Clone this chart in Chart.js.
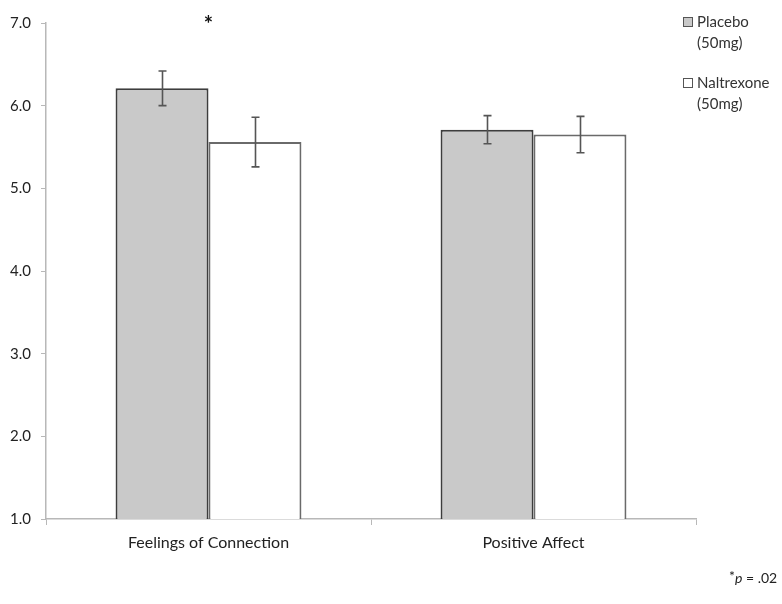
<!DOCTYPE html>
<html>
<head>
<meta charset="utf-8">
<script src="https://cdn.jsdelivr.net/npm/chart.js@4"></script>
<style>
  html, body { margin: 0; padding: 0; background: #fff; }
  #wrap { position: relative; width: 782px; height: 604px; }
</style>
</head>
<body>
<div id="wrap"><canvas id="chart" width="782" height="604"></canvas></div>
<script>
const categories = ['Feelings of Connection', 'Positive Affect'];
const seriesNames = [['Placebo', '(50mg)'], ['Naltrexone', '(50mg)']];
const placeboMeans = [6.21, 5.71];
const placeboErr = [0.21, 0.17];
const naltrexoneMeans = [5.56, 5.65];
const naltrexoneErr = [0.30, 0.22];
const yTicks = [1, 2, 3, 4, 5, 6, 7];
const starCategory = 0;
const footnote = ['*', 'p', ' = .02'];

const FONT = "Lato, 'Open Sans', sans-serif";
const errs = [placeboErr, naltrexoneErr];

const extras = {
  id: 'extras',
  afterDatasetsDraw(chart) {
    const { ctx, scales: { x, y } } = chart;
    ctx.save();
    // error bars
    ctx.strokeStyle = '#555';
    ctx.lineWidth = 1.6;
    chart.data.datasets.forEach((ds, di) => {
      chart.getDatasetMeta(di).data.forEach((bar, i) => {
        const v = ds.data[i];
        const top = y.getPixelForValue(v + errs[di][i]);
        const bot = y.getPixelForValue(v - errs[di][i]);
        const cx = Math.round(bar.x) + 0.5;
        ctx.beginPath();
        ctx.moveTo(cx, top); ctx.lineTo(cx, bot);
        ctx.moveTo(cx - 4, top); ctx.lineTo(cx + 4, top);
        ctx.moveTo(cx - 4, bot); ctx.lineTo(cx + 4, bot);
        ctx.stroke();
      });
    });
    // significance star
    ctx.fillStyle = '#111';
    ctx.font = 'bold 22px ' + FONT;
    ctx.textAlign = 'center';
    ctx.textBaseline = 'middle';
    ctx.fillText('*', x.getPixelForValue(starCategory), y.getPixelForValue(7) + 2);
    ctx.restore();
  },
  afterDraw(chart) {
    const { ctx } = chart;
    ctx.save();
    // legend
    ctx.font = '15px ' + FONT;
    ctx.textAlign = 'left';
    ctx.textBaseline = 'middle';
    chart.data.datasets.forEach((ds, di) => {
      const top = 17 + di * 61;
      ctx.fillStyle = ds.backgroundColor;
      ctx.strokeStyle = '#555';
      ctx.lineWidth = 1;
      ctx.fillRect(683.5, top + 0.5, 9, 9);
      ctx.strokeRect(683.5, top + 0.5, 9, 9);
      ctx.fillStyle = '#333';
      seriesNames[di].forEach((line, li) => {
        ctx.fillText(line, 697, top + 5 + li * 21);
      });
    });
    // footnote
    ctx.fillStyle = '#222';
    let fx = 729;
    const fy = 578;
    ctx.font = '14px ' + FONT;
    ctx.fillText(footnote[0], fx, fy - 2);
    fx += ctx.measureText(footnote[0]).width;
    ctx.font = 'italic 14px ' + FONT;
    ctx.fillText(footnote[1], fx, fy);
    fx += ctx.measureText(footnote[1]).width;
    ctx.font = '14px ' + FONT;
    ctx.fillText(footnote[2], fx, fy);
    ctx.restore();
  }
};

new Chart(document.getElementById('chart'), {
  type: 'bar',
  data: {
    labels: categories,
    datasets: [
      {
        label: seriesNames[0].join(' '),
        data: placeboMeans,
        backgroundColor: '#c9c9c9',
        borderColor: '#3d3d3d',
        borderWidth: 2,
        borderSkipped: 'bottom',
        categoryPercentage: 0.572,
        barPercentage: 1.0,
      },
      {
        label: seriesNames[1].join(' '),
        data: naltrexoneMeans,
        backgroundColor: '#ffffff',
        borderColor: '#6a6a6a',
        borderWidth: 2,
        borderSkipped: 'bottom',
        categoryPercentage: 0.572,
        barPercentage: 1.0,
      },
    ],
  },
  options: {
    responsive: false,
    animation: false,
    layout: { padding: { left: 0, right: 86, top: 23, bottom: 45 } },
    scales: {
      x: {
        grid: {
          offset: true,
          drawOnChartArea: false,
          color: '#b8b8b8',
          tickLength: 6,
        },
        border: { color: '#b8b8b8', width: 1.5 },
        ticks: {
          color: '#222',
          font: { size: 16, family: FONT },
          padding: 8,
          maxRotation: 0,
        },
        afterFit(scale) { scale.height = 40; },
      },
      y: {
        min: yTicks[0],
        max: yTicks[yTicks.length - 1],
        afterBuildTicks(scale) { scale.ticks = yTicks.map(v => ({ value: v })); },
        grid: {
          drawOnChartArea: false,
          color: '#b8b8b8',
          tickLength: 5,
        },
        border: { color: '#b8b8b8', width: 1.5 },
        ticks: {
          color: '#222',
          font: { size: 15, family: FONT },
          padding: 10,
          callback: v => Number(v).toFixed(1),
        },
        afterFit(scale) { scale.width = 46; },
      },
    },
    plugins: {
      legend: { display: false },
      tooltip: { enabled: false },
    },
  },
  plugins: [extras],
});
</script>
</body>
</html>
